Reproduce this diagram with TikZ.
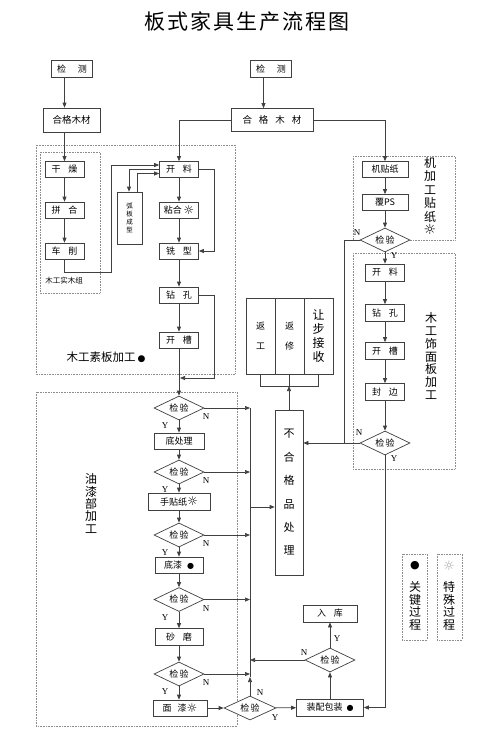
\documentclass[tikz,border=0pt]{standalone}
\usepackage{fontspec}
\setmainfont{Liberation Serif}
\newfontfamily\cjk{Noto Sans CJK SC}
\newfontfamily\sym{DejaVu Sans}
\usetikzlibrary{shapes.geometric,arrows.meta}
\newcommand\gp{\hspace{8pt}}
\newcommand\sunn{{\sym\fontsize{12}{10}\selectfont\raisebox{-0.5pt}{☼}}}
\begin{document}
\begin{tikzpicture}[x=1pt,y=-1pt,
 ln/.style={draw=black!75, line width=0.7pt},
 arr/.style={ln, -{Triangle[length=5pt,width=4pt]}},
 bx/.style={ln, fill=white, rectangle, inner sep=0pt, minimum height=16pt, font=\cjk\fontsize{9}{10}\selectfont},
 dm/.style={ln, fill=white, diamond, aspect=2, inner sep=0pt, minimum width=50pt, minimum height=24pt, font=\cjk\fontsize{9}{10}\selectfont},
 reg/.style={draw=black!45, densely dotted, line width=0.6pt},
 yn/.style={font=\rmfamily\fontsize{9}{9}\selectfont, inner sep=0pt},
 vt/.style={font=\cjk\fontsize{12}{13}\selectfont, align=center, inner sep=0pt},
]
\useasboundingbox (0,0) rectangle (500,756);
\node[font=\cjk\fontsize{21}{21}\selectfont, inner sep=0pt] (title) at (247,22) {板\hspace{2pt}式\hspace{2pt}家\hspace{2pt}具\hspace{2pt}生\hspace{2pt}产\hspace{2pt}流\hspace{2pt}程\hspace{2pt}图};

% regions
\draw[reg] (36,145) rectangle (235,374);
\draw[reg] (40,152) rectangle (100,293);
\draw[reg] (353,156) rectangle (455,240);
\draw[reg] (353,253) rectangle (455,469);
\draw[reg] (36,392) rectangle (237,726);
\draw[reg] (402,554) rectangle (427,640);
\draw[reg] (437,554) rectangle (462,640);

% region labels
\node[font=\cjk\fontsize{7.5}{8}\selectfont, inner sep=0pt] (swz) at (64,281) {木工实木组};
\node[font=\cjk\fontsize{11.5}{12}\selectfont, inner sep=0pt] (sbj) at (106,357) {木工素板加工\,{\sym\fontsize{9}{9}\selectfont ●}};
\node[vt, font=\cjk\fontsize{12}{13.5}\selectfont] (jjg) at (430,196) {机\\加\\工\\贴\\纸\\{\sym\fontsize{14}{13.5}\selectfont ☼}};
\node[vt, font=\cjk\fontsize{12}{12.7}\selectfont] (smb) at (431,356) {木\\工\\饰\\面\\板\\加\\工};
\node[vt, font=\cjk\fontsize{12}{12.4}\selectfont] (yq) at (91,503.5) {油\\漆\\部\\加\\工};
\node[font=\sym\fontsize{11}{11}\selectfont, inner sep=0pt] (lgd) at (415,566) {●};
\node[vt, font=\cjk\fontsize{12}{12.7}\selectfont] (lgt1) at (415,606) {关\\键\\过\\程};
\node[font=\sym\fontsize{13}{13}\selectfont, inner sep=0pt, text=black!35] (lgs) at (449,566) {☼};
\node[vt, font=\cjk\fontsize{12}{12.7}\selectfont] (lgt2) at (449,606) {特\\殊\\过\\程};

% top
\coordinate (cx1) at (64.5,0);
\coordinate (cx2) at (263.5,0);
\node[bx, minimum width=41pt, minimum height=17pt] (jc1) at (72,69) {检\hspace{12pt}测};
\node[bx, minimum width=57pt, minimum height=24pt, font=\cjk\fontsize{9.5}{10}\selectfont] (hg1) at (71.5,120) {合格木材};
\node[bx, minimum width=41pt, minimum height=17pt] (jc2) at (271,69) {检\hspace{12pt}测};
\node[bx, minimum width=82pt, minimum height=23pt, font=\cjk\fontsize{9.5}{10}\selectfont] (hg2) at (272,120) {合\hspace{7pt}格\hspace{7pt}木\hspace{7pt}材};

% column 1
\node[bx, minimum width=39pt] (gz) at (64.5,169.5) {干\gp 燥};
\node[bx, minimum width=39pt] (ph) at (64.5,210) {拼\gp 合};
\node[bx, minimum width=39pt] (cx) at (64.5,251) {车\gp 削};

% column 2
\node[bx, minimum width=39pt] (kl1) at (179,169.5) {开\gp 料};
\node[bx, minimum width=39pt] (nh) at (179,210) {粘合\,\sunn};
\node[bx, minimum width=39pt] (xx) at (179,251) {铣\gp 型};
\node[bx, minimum width=39pt] (zk1) at (179,295) {钻\gp 孔};
\node[bx, minimum width=39pt] (kc1) at (179,340) {开\gp 槽};
\node[bx, minimum width=25pt, minimum height=52pt, align=center, font=\cjk\fontsize{6.5}{8}\selectfont] (hb) at (129.5,218) {弧\\板\\成\\型};

% right column
\node[bx, minimum width=46pt] (jtz) at (385,169.5) {机贴纸};
\node[bx, minimum width=46pt] (fps) at (385,202.5) {覆PS};
\node[dm] (jyA) at (385,240) {检\,验};
\node[bx, minimum width=39pt, minimum height=17pt] (kl2) at (385,272.5) {开\gp 料};
\node[bx, minimum width=39pt, minimum height=17pt] (zk2) at (385,313) {钻\gp 孔};
\node[bx, minimum width=39pt, minimum height=17pt] (kc2) at (385,351) {开\gp 槽};
\node[bx, minimum width=39pt, minimum height=17pt] (fb) at (385,392) {封\gp 边};
\node[dm] (jyB) at (385,443) {检\,验};

% rework
\node[bx, minimum width=29pt, minimum height=76pt, align=center, font=\cjk\fontsize{9}{20}\selectfont] (fg) at (260.5,336) {返\\工};
\node[bx, minimum width=29pt, minimum height=76pt, align=center, font=\cjk\fontsize{9}{20}\selectfont] (fx) at (289.5,336) {返\\修};
\node[bx, minimum width=29pt, minimum height=76pt, align=center, font=\cjk\fontsize{12}{14}\selectfont] (rb) at (318.5,336) {让\\步\\接\\收};
\node[bx, minimum width=28pt, minimum height=165pt, align=center, font=\cjk\fontsize{11}{23.4}\selectfont] (bhg) at (289,492.5) {不\\合\\格\\品\\处\\理};

% paint column
\node[dm] (jy1) at (179,408) {检\,验};
\node[bx, minimum width=50pt] (dcl) at (179,441) {底处理};
\node[dm] (jy2) at (179,472) {检\,验};
\node[bx, minimum width=62pt, minimum height=17pt] (stz) at (179,501.5) {手贴纸\sunn};
\node[dm] (jy3) at (179,535) {检\,验};
\node[bx, minimum width=48pt] (dq) at (179,565) {底漆\hspace{5pt}{\sym\fontsize{8}{8}\selectfont ●}};
\node[dm] (jy4) at (179,599.5) {检\,验};
\node[bx, minimum width=48pt, minimum height=17pt] (sm) at (179,637) {砂\gp 磨};
\node[dm] (jy5) at (179,674) {检\,验};
\node[bx, minimum width=54pt] (mq) at (180,708) {面\hspace{6pt}漆\sunn};

% bottom
\node[dm, minimum width=52pt] (jyC) at (250,708) {检\,验};
\node[bx, minimum width=67pt, minimum height=17pt] (zb) at (330,707.5) {装配包装\hspace{4pt}{\sym\fontsize{8}{8}\selectfont ●}};
\node[dm] (jyD) at (330,660) {检\,验};
\node[bx, minimum width=54pt, minimum height=17pt] (rk) at (330,613.5) {入\gp 库};

% Y / N labels
\node[yn] (nA) at (357,233) {N};
\node[yn] (yA) at (394,256) {Y};
\node[yn] (nB) at (359,433) {N};
\node[yn] (yB) at (394,459) {Y};
\foreach \n/\c in {1/408,2/472,3/535,4/599.5,5/674}{
  \node[yn] (y\n) at (165,\c+18) {Y};
  \node[yn] (n\n) at (206,\c+9) {N};
}
\node[yn] (nC) at (260,693) {N};
\node[yn] (yC) at (275,718) {Y};
\node[yn] (nD) at (304,653) {N};
\node[yn] (yD) at (337,639) {Y};

% connectors top
\draw[arr] (cx1 |- jc1.south) -- (cx1 |- hg1.north);
\draw[arr] (cx2 |- jc2.south) -- (cx2 |- hg2.north);
\draw[arr] (cx1 |- hg1.south) -- (gz.north);
\draw[arr] (hg2.west) -| (kl1.north);
\draw[arr] (hg2.east) -| (jtz.north);
\draw[arr] (gz) -- (ph);
\draw[arr] (ph) -- (cx);
\coordinate (p1) at (111,272);
\coordinate (p2) at (111,165);
\draw[arr] (cx.south) |- (p1) -- (p2) -- (p2 -| kl1.west);
\coordinate (p3) at (129,0);
\draw[arr] (kl1.west) -| (p3 |- hb.north);
\coordinate (p4) at (137,173.5);
\draw[arr] (p4 |- hb.north) -- (p4) -- (p4 -| kl1.west);
\draw[arr] (kl1) -- (nh);
\draw[arr] (nh) -- (xx);
\draw[arr] (xx) -- (zk1);
\draw[arr] (zk1) -- (kc1);
\draw[arr] (kc1) -- (jy1);
\coordinate (p5) at (214,0);
\draw[arr] (kl1.east) -- (kl1.east -| p5) |- (xx.east);
\coordinate (p6) at (180,378);
\draw[arr] (zk1.east) -- (zk1.east -| p5) |- (p6);

% right column connectors
\draw[arr] (jtz) -- (fps);
\draw[arr] (fps) -- (jyA);
\draw[arr] (jyA) -- (kl2);
\draw[arr] (kl2) -- (zk2);
\draw[arr] (zk2) -- (kc2);
\draw[arr] (kc2) -- (fb);
\draw[arr] (fb) -- (jyB);
\coordinate (p7) at (344,0);
\draw[ln] (jyA.west) -- (jyA.west -| p7) -- (p7 |- jyB.west);
\draw[arr] (jyB.west) -- (jyB.west -| bhg.east);
\draw[arr] (jyB.south) |- (zb.east);

% rework connectors
\coordinate (p8) at (0,386);
\draw[ln] (fg.south) -- (fg.south |- p8) -- (rb.south |- p8) -- (rb.south);
\draw[ln] (fx.south) -- (fx.south |- p8);
\draw[arr] (bhg.north) -- (bhg.north |- p8);

% paint connectors
\coordinate (vt) at (250,408);
\coordinate (vb) at (250,677);
\draw[ln] (vt) -- (vb);
\foreach \n in {1,...,5}{\draw[arr] (jy\n.east) -- (jy\n.east -| vt);}
\coordinate (p9) at (250,507);
\draw[arr] (p9) -- (p9 -| bhg.west);
\draw[arr] (jy1) -- (dcl);
\draw[arr] (dcl) -- (jy2);
\draw[arr] (jy2) -- (stz);
\draw[arr] (stz) -- (jy3);
\draw[arr] (jy3) -- (dq);
\draw[arr] (dq) -- (jy4);
\draw[arr] (jy4) -- (sm);
\draw[arr] (sm) -- (jy5);
\draw[arr] (jy5.south) -- (jy5.south |- mq.north);

% bottom connectors
\draw[arr] (mq) -- (jyC);
\draw[arr] (jyC.north) -- (vb);
\draw[arr] (jyC) -- (zb);
\draw[arr] (zb) -- (jyD);
\draw[arr] (jyD) -- (rk);
\draw[arr] (jyD.west) -- (jyD.west -| vt);
\end{tikzpicture}
\end{document}
